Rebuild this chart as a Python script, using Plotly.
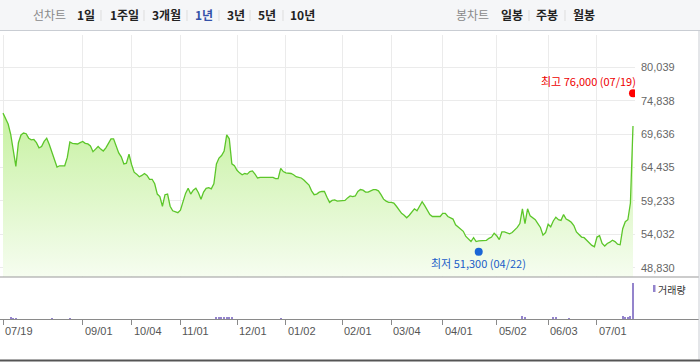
import plotly.graph_objects as go
import pandas as pd

# ---------------- data ----------------
holidays = ["2023-08-15", "2023-09-28", "2023-09-29", "2023-10-02", "2023-10-03",
            "2023-10-09", "2023-12-25", "2023-12-29", "2024-01-01", "2024-02-09",
            "2024-02-12", "2024-03-01", "2024-04-10", "2024-05-01", "2024-05-06",
            "2024-05-15", "2024-06-06"]
trade_days = [d.strftime("%Y-%m-%d") for d in pd.bdate_range("2023-07-19", "2024-07-19")
              if d.strftime("%Y-%m-%d") not in holidays]

close_prices = [
    72900, 71900, 71200, 69600, 67200, 64600, 68300, 69500, 69800, 69700,
    69000, 68750, 68800, 68300, 67500, 67700, 68500, 69000, 68000, 66900,
    65700, 64500, 64700, 64700, 64700, 66000, 68400, 68200, 68200, 68100,
    68300, 68500, 68200, 68100, 67800, 66900, 67300, 67700, 67300, 67000,
    67500, 68300, 68900, 68900, 67900, 66700, 66100, 65000, 65100, 66500,
    64900, 63700, 63400, 63000, 63200, 63500, 63200, 62600, 62600, 61900,
    60300, 59900, 58400, 60200, 60300, 58400, 57700, 57600, 57400, 57800,
    59100, 60400, 61200, 60300, 60900, 61200, 60500, 59500, 60600, 61200,
    61300, 61100, 61900, 65000, 65900, 66300, 67000, 69500, 68900, 65000,
    64700, 64000, 63600, 63300, 63500, 63400, 63800, 63900, 63400, 62800,
    62900, 62900, 62800, 62800, 62800, 62900, 62700, 62700, 64300, 63800,
    63600, 63600, 63500, 63300, 63000, 62900, 62800, 62500, 62100, 61700,
    60800, 60200, 60300, 60600, 60700, 60700, 59800, 59000, 59300, 59400,
    59200, 59200, 59200, 59300, 59700, 60000, 59900, 60000, 60700, 61000,
    60900, 60600, 60600, 60800, 61000, 61000, 60800, 60200, 59500, 59200,
    59000, 59000, 58900, 58400, 57800, 57300, 57000, 56600, 57000, 57500,
    58000, 57700, 58300, 59100, 58500, 57800, 57100, 56800, 56800, 56800,
    56800, 57300, 57300, 56800, 56600, 56400, 55500, 55200, 54800, 54500,
    53700, 53300, 52900, 53500, 52900, 53000, 53000, 53000, 53100, 53400,
    53600, 54200, 53800, 53200, 54400, 54400, 54300, 54100, 54300, 54700,
    55100, 55700, 58000, 55700, 58000, 56900, 56600, 56300, 55700, 55100,
    53900, 54300, 55600, 55200, 56100, 56700, 56300, 56200, 57100, 56400,
    56200, 55900, 55400, 54400, 54000, 53600, 53500, 53100, 52700, 52300,
    52100, 53600, 53800, 52600, 52200, 52600, 52800, 53100, 52900, 52500,
    52400, 54900, 56000, 56300, 58900, 70900]

# volume in thousands of shares (0 = too small to see in the picture)
volume_k = [
    0, 0, 0, 300, 250, 200, 0, 0, 0, 0, 0, 0, 0, 0, 0, 0, 0, 0, 0, 200,
    0, 0, 0, 0, 0, 0, 250, 0, 0, 0, 0, 0, 0, 0, 0, 0, 0, 0, 0, 0,
    0, 0, 0, 0, 0, 0, 0, 0, 0, 0, 0, 0, 0, 0, 0, 0, 0, 0, 0, 0,
    0, 0, 0, 0, 0, 0, 0, 0, 0, 0, 0, 0, 0, 0, 0, 0, 0, 0, 0, 0,
    0, 0, 0, 350, 500, 400, 500, 450, 400, 300, 0, 0, 0, 0, 0, 0, 0, 0, 0, 0,
    0, 0, 0, 0, 0, 0, 0, 0, 200, 0, 0, 0, 0, 0, 0, 0, 0, 0, 0, 0,
    0, 0, 0, 0, 0, 0, 0, 0, 0, 0, 0, 0, 0, 0, 0, 0, 0, 0, 0, 0,
    0, 0, 0, 0, 0, 0, 0, 0, 0, 0, 0, 0, 0, 0, 0, 0, 0, 0, 0, 0,
    0, 0, 0, 0, 0, 0, 0, 0, 0, 0, 0, 0, 0, 0, 0, 0, 0, 0, 0, 0,
    0, 0, 0, 0, 0, 0, 0, 0, 0, 0, 0, 0, 0, 0, 0, 0, 0, 0, 0, 0,
    0, 0, 700, 600, 0, 0, 0, 0, 0, 0, 0, 0, 0, 0, 600, 400, 0, 0, 0, 0,
    250, 0, 0, 0, 0, 0, 0, 0, 0, 0, 0, 0, 0, 0, 0, 0, 0, 0, 0, 0,
    0, 700, 500, 550, 800, 9000]

high_price = 76000
high_day = "2024-07-19"
low_price = 51300
low_day = "2024-04-22"

tick_days = ["2023-07-19", "2023-09-01", "2023-10-04", "2023-11-01", "2023-12-01", "2024-01-02",
             "2024-02-01", "2024-03-04", "2024-04-01", "2024-05-02", "2024-06-03", "2024-07-01"]
tick_labels = ["07/19", "09/01", "10/04", "11/01", "12/01", "01/02",
               "02/01", "03/04", "04/01", "05/02", "06/03", "07/01"]
price_ticks = [48830, 54032, 59233, 64435, 69636, 74838, 80039]

period_tabs = ["1일", "1주일", "3개월", "1년", "3년", "5년", "10년"]
candle_tabs = ["일봉", "주봉", "월봉"]

if len(trade_days) != len(close_prices) or len(trade_days) != len(volume_k):
    raise SystemExit(f"length mismatch {len(trade_days)} {len(close_prices)} {len(volume_k)}")

# ---------------- geometry helpers ----------------
W, H = 700, 362
def X(px): return px / W
def Y(py): return 1 - py / H

FONT = "Noto Sans CJK KR"
NUMFONT = "Liberation Sans, Arial, sans-serif"
GREEN = "#5cc62a"
PURPLE = "#9484cc"

fig = go.Figure()

fig.add_trace(go.Scatter(
    x=trade_days, y=close_prices, mode="lines",
    line=dict(color=GREEN, width=1.3),
    fill="tozeroy",
    fillgradient=dict(type="vertical", start=47400, stop=73000,
                      colorscale=[[0, "rgba(246,253,240,1)"], [1, "rgba(198,241,160,1)"]]),
    xaxis="x", yaxis="y", hoverinfo="skip", showlegend=False))

fig.add_trace(go.Scatter(
    x=[high_day], y=[high_price], mode="markers",
    marker=dict(color="#ff0000", size=8), xaxis="x", yaxis="y", showlegend=False))
fig.add_trace(go.Scatter(
    x=[low_day], y=[low_price], mode="markers",
    marker=dict(color="#1a66d6", size=8), xaxis="x", yaxis="y", showlegend=False))

fig.add_trace(go.Bar(
    x=trade_days, y=[v * 1000 for v in volume_k], marker=dict(color=PURPLE, line=dict(width=0)),
    width=0.45, xaxis="x2", yaxis="y2", showlegend=False))

px_per = 2.5714
xr = [-3 / px_per, (635 - 3) / px_per]

ytop_px, ybot_px = 35, 276.7
scale = 33.4 / 5201.6  # px per won
y_top = 80039 + (67.3 - ytop_px) / scale
y_bot = 80039 - (ybot_px - 67.3) / scale

fig.update_layout(
    width=W, height=H, margin=dict(l=0, r=0, t=0, b=0, autoexpand=False),
    paper_bgcolor="white", plot_bgcolor="rgba(0,0,0,0)",
    bargap=0,
    xaxis=dict(type="category", domain=[0, X(635)], range=xr, anchor="y",
               tickmode="array", tickvals=tick_days, ticktext=tick_labels,
               showticklabels=False, showgrid=True, gridcolor="#ebebeb", gridwidth=1,
               ticks="", zeroline=False, showline=False, fixedrange=True),
    yaxis=dict(domain=[Y(ybot_px), Y(ytop_px)], range=[y_bot, y_top], side="right",
               anchor="x", tickmode="array", tickvals=price_ticks,
               ticktext=[f"{v:,}" for v in price_ticks],
               tickfont=dict(family=NUMFONT, size=11, color="#666666"),
               showgrid=True, gridcolor="#ebebeb", gridwidth=1, ticks="",
               ticklabelstandoff=5, zeroline=False, showline=False, automargin=False),
    xaxis2=dict(type="category", domain=[0, X(635)], range=xr, anchor="y2",
                tickmode="array", tickvals=tick_days, showticklabels=False,
                showgrid=False, ticks="outside", ticklen=5, tickcolor="#8a8a8a",
                zeroline=False, showline=False, automargin=False),
    yaxis2=dict(domain=[Y(319), Y(278)], range=[0, 10250000], anchor="x2",
                visible=False, showgrid=False, zeroline=False),
)

shapes = []
# header
shapes.append(dict(type="rect", xref="paper", yref="paper", x0=0, x1=1, y0=Y(30.5), y1=1,
                   fillcolor="#f5f6f8", line=dict(width=0), layer="below"))
shapes.append(dict(type="line", xref="paper", yref="paper", x0=0, x1=1, y0=Y(30.5), y1=Y(30.5),
                   line=dict(color="#c9cdd3", width=1)))
# separators in header
for sx in [101, 144, 187, 219, 250, 283, 529, 565]:
    shapes.append(dict(type="line", xref="paper", yref="paper", x0=X(sx), x1=X(sx),
                       y0=Y(21), y1=Y(10), line=dict(color="#dddddd", width=1)))
# panel separators
shapes.append(dict(type="line", xref="paper", yref="paper", x0=0, x1=X(699), y0=Y(277), y1=Y(277),
                   line=dict(color="#999999", width=1)))
shapes.append(dict(type="line", xref="paper", yref="paper", x0=0, x1=X(699), y0=Y(319.5), y1=Y(319.5),
                   line=dict(color="#8a8a8a", width=1)))
# right border
shapes.append(dict(type="line", xref="paper", yref="paper", x0=X(699), x1=X(699), y0=Y(361), y1=Y(30.5),
                   line=dict(color="#c9cdd3", width=1)))
# bottom dark line
shapes.append(dict(type="line", xref="paper", yref="paper", x0=0, x1=1, y0=Y(360.5), y1=Y(360.5),
                   line=dict(color="#555555", width=2)))
# volume legend swatch
shapes.append(dict(type="rect", xref="paper", yref="paper", x0=X(653), x1=X(655.5), y0=Y(292), y1=Y(285),
                   fillcolor=PURPLE, line=dict(width=0)))
fig.update_layout(shapes=shapes)

ann = []
def txt(x, y, s, color, size=12, bold=False, font=FONT, anchor="left"):
    ann.append(dict(xref="paper", yref="paper", x=X(x), y=Y(y), text=f"<b>{s}</b>" if bold else s,
                    showarrow=False, xanchor=anchor, yanchor="middle",
                    font=dict(family=font, size=size, color=color), borderpad=0))

txt(32, 15, "선차트", "#8a8a8a", 12)
for s, x in zip(period_tabs, [76, 109, 151, 194, 226, 257, 289]):
    txt(x, 15, s, "#3451a8" if s == "1년" else "#222222", 12, bold=True)
txt(455, 15, "봉차트", "#8a8a8a", 12)
for s, x in zip(candle_tabs, [500, 535, 572]):
    txt(x, 15, s, "#222222", 12, bold=True)

# x tick labels (left aligned at tick)
for d, lab in zip(tick_days, tick_labels):
    ann.append(dict(xref="x2", yref="paper", x=d, y=Y(330.5), text=lab, showarrow=False,
                    xanchor="left", yanchor="middle", xshift=0,
                    font=dict(family=NUMFONT, size=11, color="#555555")))

# high / low labels
ann.append(dict(xref="x", yref="y", x=high_day, y=high_price,
                text=f"최고 {high_price:,} ({high_day[5:7]}/{high_day[8:10]})",
                showarrow=False, xanchor="right", yanchor="middle", xshift=5, yshift=12,
                font=dict(family=FONT, size=11, color="#ee0000")))
ann.append(dict(xref="x", yref="y", x=low_day, y=low_price,
                text=f"최저 {low_price:,} ({low_day[5:7]}/{low_day[8:10]})",
                showarrow=False, xanchor="center", yanchor="middle", yshift=-11,
                font=dict(family=FONT, size=11, color="#1a5cc8")))

# volume legend
txt(657, 289, "거래량", "#333333", 10)

fig.update_layout(annotations=ann)

fig.write_html("out.html",
               config={"displayModeBar": False},
               post_script="document.body.style.margin='0';"
                           "document.documentElement.style.overflow='hidden';"
                           "document.body.style.overflow='hidden';")
